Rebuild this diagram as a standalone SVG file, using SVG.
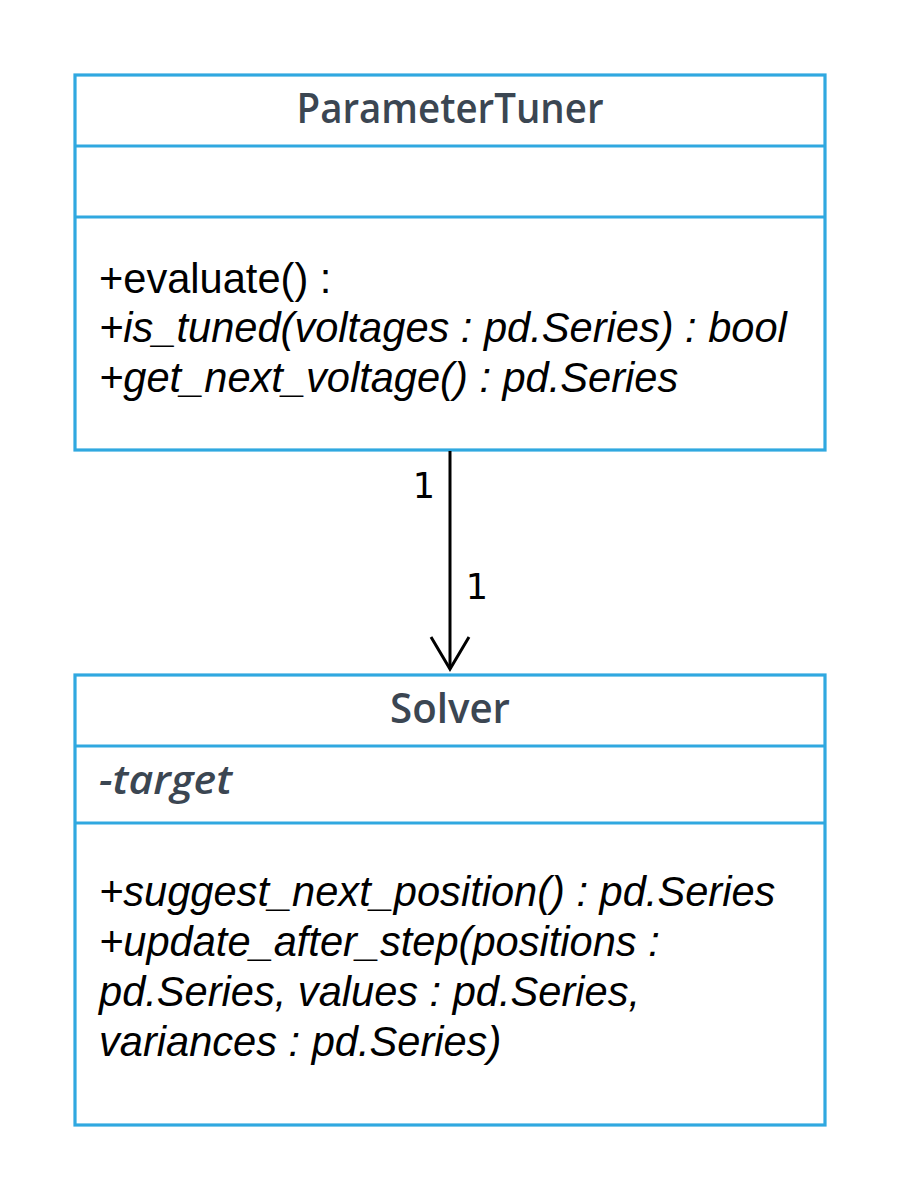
<svg xmlns="http://www.w3.org/2000/svg" width="900" height="1200" viewBox="0 0 900 1200">
<style>
.box{fill:#ffffff;stroke:#30a8e0;stroke-width:3.2}
.div{stroke:#30a8e0;stroke-width:3.2}
.title{font-family:"Open Sans","Noto Sans",sans-serif;font-weight:600;font-size:41px;fill:#3b4652;text-anchor:middle}
.attr{font-family:"Open Sans","Noto Sans",sans-serif;font-weight:600;font-style:italic;font-size:40px;fill:#3b4652}
.op{font-family:"Liberation Sans",Arial,sans-serif;font-size:41.6px;fill:#000000}
.it{font-style:italic}
.mult{font-family:"DejaVu Sans",sans-serif;font-size:35px;fill:#000000;text-anchor:middle}
.edge{stroke:#000000;stroke-width:3;fill:none}
</style>
<rect width="900" height="1200" fill="#ffffff"/>
<g id="ParameterTuner">
<rect class="box" x="75" y="75" width="750" height="375"/>
<line class="div" x1="75" y1="146" x2="825" y2="146"/>
<line class="div" x1="75" y1="217" x2="825" y2="217"/>
<text class="title" x="450" y="123" textLength="307" lengthAdjust="spacingAndGlyphs">ParameterTuner</text>
<text class="op" x="99" y="293">+evaluate() :</text>
<text class="op it" x="99" y="342">+is_tuned(voltages : pd.Series) : bool</text>
<text class="op it" x="99" y="392">+get_next_voltage() : pd.Series</text>
</g>
<g id="Solver">
<rect class="box" x="75" y="675" width="750" height="450"/>
<line class="div" x1="75" y1="746" x2="825" y2="746"/>
<line class="div" x1="75" y1="823" x2="825" y2="823"/>
<text class="title" x="450" y="723" textLength="120" lengthAdjust="spacingAndGlyphs">Solver</text>
<text class="attr" x="99" y="794" textLength="133" lengthAdjust="spacingAndGlyphs">-target</text>
<text class="op it" x="99" y="906">+suggest_next_position() : pd.Series</text>
<text class="op it" x="99" y="956">+update_after_step(positions :</text>
<text class="op it" x="99" y="1006">pd.Series, values : pd.Series,</text>
<text class="op it" x="99" y="1056">variances : pd.Series)</text>
</g>
<g id="connectors">
<line class="edge" x1="450" y1="451" x2="450" y2="669"/>
<polyline class="edge" points="431,637 450,669 469,637"/>
<text class="mult" x="424" y="498">1</text>
<text class="mult" x="477" y="599">1</text>
</g>
</svg>
